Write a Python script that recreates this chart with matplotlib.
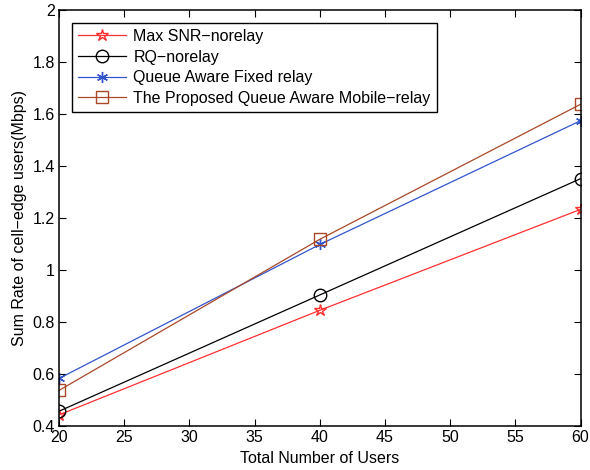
import numpy as np
import matplotlib
matplotlib.use("Agg")
import matplotlib.pyplot as plt

plt.rcParams['font.family'] = ['Liberation Sans', 'DejaVu Sans']
plt.rcParams['axes.linewidth'] = 1.1

users = [20, 40, 60]
max_snr = [0.443, 0.845, 1.233]
rq = [0.457, 0.904, 1.351]
fixed_relay = [0.583, 1.098, 1.574]
mobile_relay = [0.537, 1.118, 1.637]

labels = ['Max SNR\u2212norelay', 'RQ\u2212norelay',
          'Queue Aware Fixed relay', 'The Proposed Queue Aware Mobile\u2212relay']

fig = plt.figure(figsize=(5.9, 4.7), dpi=100)
ax = fig.add_axes([0.1, 0.0935, 0.884, 0.8855])

ax.plot(users, max_snr, color='#FF3030', marker='*', ms=9, mfc='none', lw=0.9, label=labels[0])
ax.plot(users, rq, color='black', marker='o', ms=9, mfc='none', lw=0.9, label=labels[1])
ax.plot(users, fixed_relay, color='#3355CC', marker=(6, 2, 0), ms=8, mew=1.0, lw=0.9, label=labels[2])
ax.plot(users, mobile_relay, color='#A84828', marker='s', ms=8, mfc='none', lw=0.9, label=labels[3])

ax.set_xlim(20, 60)
ax.set_ylim(0.4, 2)
ax.set_xticks(np.arange(20, 61, 5))
ax.set_yticks([0.4, 0.6, 0.8, 1.0, 1.2, 1.4, 1.6, 1.8, 2.0])
ax.set_yticklabels(['0.4', '0.6', '0.8', '1', '1.2', '1.4', '1.6', '1.8', '2'])
ax.tick_params(direction='in', top=True, right=True, labelsize=11.5, length=5, pad=3)
ax.set_xlabel('Total Number of Users', fontsize=11.5, labelpad=4)
ax.set_ylabel('Sum Rate of cell\u2212edge users(Mbps)', fontsize=11.5, labelpad=4)

leg = ax.legend(loc='upper left', fontsize=11.5, fancybox=False, framealpha=1,
                edgecolor='black', borderaxespad=0.8, handlelength=3,
                handletextpad=0.45, labelspacing=0.35, borderpad=0.4)
leg.get_frame().set_linewidth(1.0)

fig.savefig('out.png', dpi=100)
